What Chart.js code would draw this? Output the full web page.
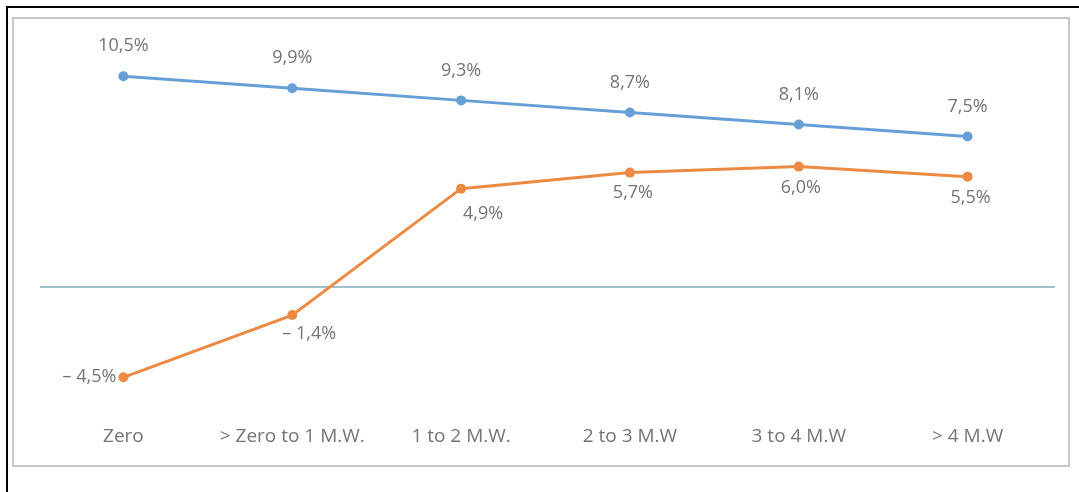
<!DOCTYPE html>
<html>
<head>
<meta charset="utf-8">
<script src="https://cdn.jsdelivr.net/npm/chart.js@4.4.1/dist/chart.umd.min.js"></script>
<style>
  html, body { margin: 0; padding: 0; background: #fff; }
  body { width: 1079px; height: 492px; position: relative; overflow: hidden; }
  .frame { position: absolute; left: 6px; top: 6px; width: 1073px; height: 486px;
           border-left: 2px solid #000; border-top: 2px solid #000; }
  .box { position: absolute; left: 12px; top: 17px; width: 1054px; height: 446px;
         border: 2px solid #c3c8cc; background: #fff; }
  .box canvas { position: absolute; left: 0; top: 0; }
</style>
</head>
<body>
<div class="frame"></div>
<div class="box"><canvas id="lineChart" width="1054" height="446"></canvas></div>
<script>
// --- chart data ---
const categories = ['Zero', '> Zero to 1 M.W.', '1 to 2 M.W.', '2 to 3 M.W', '3 to 4 M.W', '> 4 M.W'];
const blueValues = [10.5, 9.9, 9.3, 8.7, 8.1, 7.5];
const orangeValues = [-4.5, -1.4, 4.9, 5.7, 6.0, 5.5];

// label offsets from each point (px)
const blueLabelOffsets = [[0, -30], [0, -30], [0, -30], [0, -30], [0, -30], [0, -30]];
const orangeLabelOffsets = [[-34, 0], [17, 19], [22, 25], [3, 20], [2, 21], [3, 21]];

const textColor = '#747474';

function fmtPct(v) {
    const s = Math.abs(v).toFixed(1).replace('.', ',') + '%';
    return v < 0 ? '\u2013 ' + s : s;
}

// draws the zero baseline across the plot
const zeroLine = {
    id: 'zeroLine',
    beforeDatasetsDraw(chart) {
        const { ctx, chartArea, scales } = chart;
        const y = scales.y.getPixelForValue(0);
        ctx.save();
        ctx.strokeStyle = '#a3bfce';
        ctx.lineWidth = 2;
        ctx.beginPath();
        ctx.moveTo(chartArea.left + 1, y);
        ctx.lineTo(chartArea.right + 3, y);
        ctx.stroke();
        ctx.restore();
    }
};

// value labels next to each point
const valueLabels = {
    id: 'valueLabels',
    afterDatasetsDraw(chart) {
        const { ctx } = chart;
        ctx.save();
        ctx.font = '18px "Open Sans", sans-serif';
        ctx.fillStyle = textColor;
        ctx.textAlign = 'center';
        ctx.textBaseline = 'middle';
        chart.data.datasets.forEach((ds, di) => {
            const meta = chart.getDatasetMeta(di);
            meta.data.forEach((pt, i) => {
                const off = ds.labelOffsets[i];
                ctx.fillText(fmtPct(ds.data[i]), pt.x + off[0], pt.y + off[1]);
            });
        });
        ctx.restore();
    }
};

new Chart(document.getElementById('lineChart'), {
    type: 'line',
    data: {
        labels: categories,
        datasets: [
            {
                data: blueValues,
                labelOffsets: blueLabelOffsets,
                borderColor: '#669fd6',
                backgroundColor: '#669fd6',
                borderWidth: 3,
                pointRadius: 5,
                pointBorderWidth: 0,
                tension: 0
            },
            {
                data: orangeValues,
                labelOffsets: orangeLabelOffsets,
                borderColor: '#ec8a43',
                backgroundColor: '#ec8a43',
                borderWidth: 3,
                pointRadius: 5,
                pointBorderWidth: 0,
                tension: 0
            }
        ]
    },
    options: {
        responsive: false,
        animation: false,
        layout: { padding: { left: 25, right: 16, top: 28, bottom: 10 } },
        plugins: {
            legend: { display: false },
            tooltip: { enabled: false }
        },
        scales: {
            x: {
                offset: true,
                grid: { display: false },
                border: { display: false },
                ticks: {
                    color: textColor,
                    font: { family: '"Open Sans", sans-serif', size: 19 },
                    padding: 7,
                    maxRotation: 0,
                    autoSkip: false
                }
            },
            y: {
                display: false,
                min: -6.14,
                max: 11.96
            }
        }
    },
    plugins: [zeroLine, valueLabels]
});
</script>
</body>
</html>
